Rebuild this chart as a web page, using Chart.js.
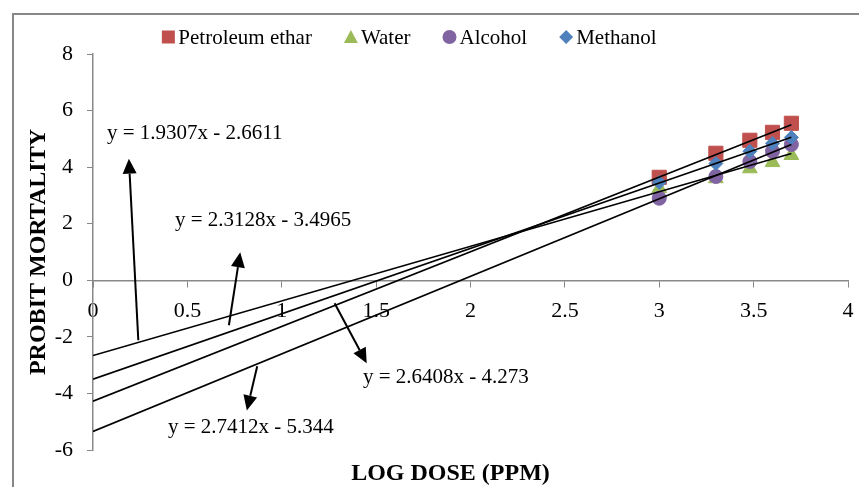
<!DOCTYPE html>
<html>
<head>
<meta charset="utf-8">
<script src="https://cdn.jsdelivr.net/npm/chart.js@4.4.1/dist/chart.umd.min.js"></script>
<style>
  body { margin: 0; background: #fff; }
  #wrap { position: relative; width: 859px; height: 487px; overflow: hidden; }
</style>
</head>
<body>
<div id="wrap"><canvas id="probitChart" width="859" height="487"></canvas></div>
<script>
// Log dose values (x) and probit mortality per extract
const logDose = [3, 3.3, 3.48, 3.6, 3.7];
const petroleumEthar = [3.64, 4.49, 4.95, 5.23, 5.55];
const water = [3.25, 3.6, 3.95, 4.17, 4.42];
const alcohol = [2.9, 3.67, 4.2, 4.56, 4.8];
const methanol = [3.46, 4.13, 4.56, 4.84, 5.05];

// Trendline equations (slope, intercept), drawn from x = 0 to x = 3.7
const trendSlopes = [2.6408, 1.9307, 2.7412, 2.3128];
const trendIntercepts = [-4.273, -2.6611, -5.344, -3.4965];
const trendRange = [0, 3.7];

const xTicks = [0, 0.5, 1, 1.5, 2, 2.5, 3, 3.5, 4];
const yTicks = [-6, -4, -2, 0, 2, 4, 6, 8];

const serif = "'Liberation Serif', 'Times New Roman', serif";

function points(ys) {
  return logDose.map((x, i) => ({ x: x, y: ys[i] }));
}

function trendLine(i) {
  return trendRange.map((x) => ({ x: x, y: trendSlopes[i] * x + trendIntercepts[i] }));
}

// equation labels and arrows, in data coordinates
const notes = [
  { text: "y = 1.9307x - 2.6611", tx: 0.074, ty: 5.18, from: [0.24, -2.12], to: [0.19, 4.3] },
  { text: "y = 2.3128x - 3.4965", tx: 0.434, ty: 2.12, from: [0.72, -1.59], to: [0.78, 0.99] },
  { text: "y = 2.6408x - 4.273", tx: 1.43, ty: -3.43, from: [1.28, -0.81], to: [1.45, -2.93] },
  { text: "y = 2.7412x - 5.344", tx: 0.397, ty: -5.19, from: [0.87, -3.04], to: [0.815, -4.6] },
];

function drawMarker(c, style, x, y, color) {
  c.fillStyle = color;
  c.beginPath();
  if (style === "rect") {
    c.rect(x - 6.5, y - 6.5, 13, 13);
  } else if (style === "triangle") {
    c.moveTo(x, y - 7);
    c.lineTo(x + 7, y + 6);
    c.lineTo(x - 7, y + 6);
    c.closePath();
  } else if (style === "circle") {
    c.arc(x, y, 7, 0, Math.PI * 2);
  } else {
    c.moveTo(x, y - 7);
    c.lineTo(x + 7, y);
    c.lineTo(x, y + 7);
    c.lineTo(x - 7, y);
    c.closePath();
  }
  c.fill();
}

const extras = {
  id: "extras",
  afterDraw(chart) {
    const c = chart.ctx;
    const xs = chart.scales.x;
    const ys = chart.scales.y;
    const area = chart.chartArea;

    c.save();
    // outer frame
    c.strokeStyle = "#878787";
    c.lineWidth = 2;
    c.strokeRect(13, 14, 900, 600);

    // legend
    c.font = "21px " + serif;
    c.textBaseline = "middle";
    c.textAlign = "left";
    const items = chart.data.datasets.slice(0, 4);
    const gap = 3, spacing = 32, box = 14;
    let total = 0;
    items.forEach((d, i) => {
      total += box + gap + c.measureText(d.label).width + (i < 3 ? spacing : 0);
    });
    let lx = 409 - total / 2;
    const ly = 37;
    items.forEach((d) => {
      drawMarker(c, d.pointStyle, lx + box / 2, ly, d.backgroundColor);
      c.fillStyle = "#000";
      c.fillText(d.label, lx + box + gap, ly + 1);
      lx += box + gap + c.measureText(d.label).width + spacing;
    });

    // equation labels with arrows
    c.fillStyle = "#000";
    c.strokeStyle = "#000";
    notes.forEach((n) => {
      c.fillText(n.text, xs.getPixelForValue(n.tx), ys.getPixelForValue(n.ty));
      const x1 = xs.getPixelForValue(n.from[0]);
      const y1 = ys.getPixelForValue(n.from[1]);
      const x2 = xs.getPixelForValue(n.to[0]);
      const y2 = ys.getPixelForValue(n.to[1]);
      const ang = Math.atan2(y2 - y1, x2 - x1);
      const headLen = 15;
      const headW = 7;
      const bx = x2 - headLen * Math.cos(ang);
      const by = y2 - headLen * Math.sin(ang);
      c.lineWidth = 2;
      c.beginPath();
      c.moveTo(x1, y1);
      c.lineTo(bx, by);
      c.stroke();
      c.beginPath();
      c.moveTo(x2, y2);
      c.lineTo(bx + headW * Math.sin(ang), by - headW * Math.cos(ang));
      c.lineTo(bx - headW * Math.sin(ang), by + headW * Math.cos(ang));
      c.closePath();
      c.fill();
    });

    // x axis title
    c.font = "bold 24px " + serif;
    c.textAlign = "center";
    c.fillText("LOG DOSE (PPM)", (area.left + area.right) / 2 - 20, area.bottom + 24);
    c.restore();
  },
};

const ctx = document.getElementById("probitChart").getContext("2d");
new Chart(ctx, {
  type: "scatter",
  data: {
    datasets: [
      {
        label: "Petroleum ethar",
        data: points(petroleumEthar),
        backgroundColor: "#C0504D",
        borderColor: "#C0504D",
        pointStyle: "rect",
        pointRadius: 10,
        order: 4,
      },
      {
        label: "Water",
        data: points(water),
        backgroundColor: "#9BBB59",
        borderColor: "#9BBB59",
        pointStyle: "triangle",
        pointRadius: 8.5,
        order: 3,
      },
      {
        label: "Alcohol",
        data: points(alcohol),
        backgroundColor: "#8064A2",
        borderColor: "#8064A2",
        pointStyle: "circle",
        pointRadius: 7,
        order: 2,
      },
      {
        label: "Methanol",
        data: points(methanol),
        backgroundColor: "#4F81BD",
        borderColor: "#4F81BD",
        pointStyle: "rectRot",
        pointRadius: 7,
        order: 1,
      },
    ].concat(
      trendSlopes.map((s, i) => ({
        label: "trend" + i,
        data: trendLine(i),
        showLine: true,
        borderColor: "#000",
        borderWidth: 1.6,
        pointRadius: 0,
        order: 0,
      }))
    ),
  },
  options: {
    responsive: false,
    animation: false,
    layout: { padding: { left: 0, right: 10, top: 54, bottom: 37 } },
    plugins: {
      legend: { display: false },
      tooltip: { enabled: false },
    },
    scales: {
      x: {
        type: "linear",
        position: { y: 0 },
        min: 0,
        max: 4,
        afterBuildTicks: (axis) => { axis.ticks = xTicks.map((v) => ({ value: v })); },
        afterFit: (axis) => { axis.paddingLeft = 0; axis.paddingRight = 0; },
        ticks: {
          color: "#000",
          padding: 12,
          font: { family: serif, size: 22 },
          callback: (v) => String(v),
        },
        grid: { drawOnChartArea: false, tickLength: 6, color: "#888" },
        border: { color: "#888", width: 1.5 },
      },
      y: {
        min: -6,
        max: 8,
        afterBuildTicks: (axis) => { axis.ticks = yTicks.map((v) => ({ value: v })); },
        afterFit: (axis) => { axis.width = 93; },
        ticks: {
          color: "#000",
          padding: 14,
          font: { family: serif, size: 22 },
          callback: (v) => String(v),
        },
        grid: { drawOnChartArea: false, tickLength: 6, color: "#888" },
        border: { color: "#888", width: 1.5 },
        title: {
          display: true,
          text: "PROBIT MORTALITY",
          color: "#000",
          padding: { top: 24, bottom: 0 },
          font: { family: serif, size: 24, weight: "bold" },
        },
      },
    },
  },
  plugins: [extras],
});
</script>
</body>
</html>
